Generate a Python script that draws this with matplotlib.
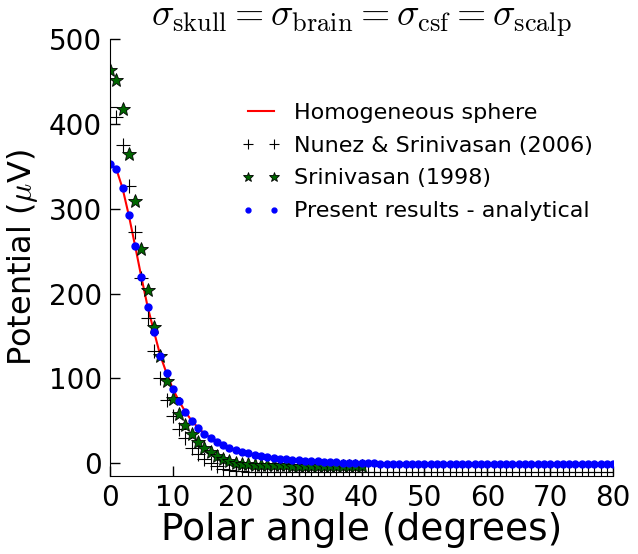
import numpy as np
import matplotlib
matplotlib.use("Agg")
from matplotlib import pyplot as plt

plt.rcParams['mathtext.fontset'] = 'cm'

# polar angle (degrees), one sample per degree
angle = np.arange(0, 81)

# homogeneous sphere / present analytical results (same curve)
present = [353, 347, 324, 292, 256, 219, 184, 155, 127, 106,
           87.5, 73, 60.5, 50, 42, 35, 30, 25.5, 21.5, 18.4,
           15.6, 13.3, 11.8, 9.8, 8.6, 7.4, 6.2, 5.4, 4.7, 4.1,
           3.5, 3.0, 2.6, 2.2, 1.8, 1.5, 1.2, 0.9, 0.6, 0.4,
           0.2, 0.0, -0.2, -0.3, -0.5, -0.6, -0.7, -0.8, -0.9, -1.0,
           -1.0, -1.1, -1.1, -1.2, -1.2, -1.2, -1.3, -1.3, -1.3, -1.3,
           -1.3, -1.3, -1.3, -1.3, -1.3, -1.2, -1.2, -1.2, -1.2, -1.2,
           -1.1, -1.1, -1.1, -1.1, -1.0, -1.0, -1.0, -1.0, -1.0, -1.0,
           -1.0]
homogeneous = present

# Nunez & Srinivasan (2006)
nunez = [420, 408, 375, 327, 273, 218, 171, 132, 101, 75,
         55.6, 40.8, 30, 18.4, 10.6, 5.5, 0.8, -3.2, -6.2, -8.0,
         -9.0, -9.5, -9.8, -10, -10, -10, -10, -10, -10, -10,
         -10, -10, -10, -10, -10, -10, -10, -10, -10, -10,
         -10, -10, -10, -10, -10, -10, -10, -10, -10, -10,
         -10, -10, -10, -10, -10, -10, -10, -10, -10, -10,
         -10, -10, -10, -10, -10, -10, -10, -10, -10, -10,
         -10, -10, -10, -10, -10, -10, -10, -10, -10, -10,
         -10]

# Srinivasan (1998)
srini_angle = np.arange(0, 41)
srini = [463, 452, 417, 365, 309, 253, 204, 161, 126, 97,
         75.3, 58.5, 45, 34, 25, 18.4, 13.3, 8.6, 5.5, 2.7,
         0.8, -0.3, -1.0, -1.5, -1.9, -2.2, -2.4, -2.5, -2.6, -2.7,
         -2.7, -2.7, -2.7, -2.7, -2.7, -2.7, -2.7, -2.7, -2.7, -2.7,
         -2.7]

fig = plt.figure(figsize=(6.38, 5.54), dpi=100)
ax = fig.add_axes([0.1724, 0.1408, 0.7886, 0.7888])

ax.plot(angle, homogeneous, 'r-', lw=1.5, label='Homogeneous sphere')
ax.plot(angle, nunez, 'k+', ms=10, mew=0.8, label='Nunez & Srinivasan (2006)')
ax.plot(srini_angle, srini, '*', color=(0, 0.4, 0), mec='k', mew=0.6, ms=10,
        label='Srinivasan (1998)')
ax.plot(angle, present, 'o', color='b', mec='b', ms=5,
        label='Present results - analytical')

ax.set_xlim(0, 80)
ax.set_ylim(-15, 500)
ax.set_xticks(range(0, 81, 10))
ax.set_yticks(range(0, 501, 100))
ax.spines['top'].set_visible(False)
ax.spines['right'].set_visible(False)
ax.tick_params(direction='in', length=7, width=1, labelsize=20, pad=6,
               top=False, right=False)

ax.set_xlabel('Polar angle (degrees)', fontsize=27, labelpad=0)
ax.set_ylabel(r'Potential ($\mu$V)', fontsize=23, labelpad=6)
ax.set_title(r'$\sigma_{\rm skull} = \sigma_{\rm brain} = \sigma_{\rm csf} = \sigma_{\rm scalp}$',
             fontsize=27, pad=6)

ax.legend(loc='upper right', bbox_to_anchor=(1.0, 0.90), frameon=False,
          numpoints=2, fontsize=16, handlelength=1.8, handletextpad=0.6,
          labelspacing=0.58, markerscale=0.7)

fig.savefig('out.png', dpi=100)
